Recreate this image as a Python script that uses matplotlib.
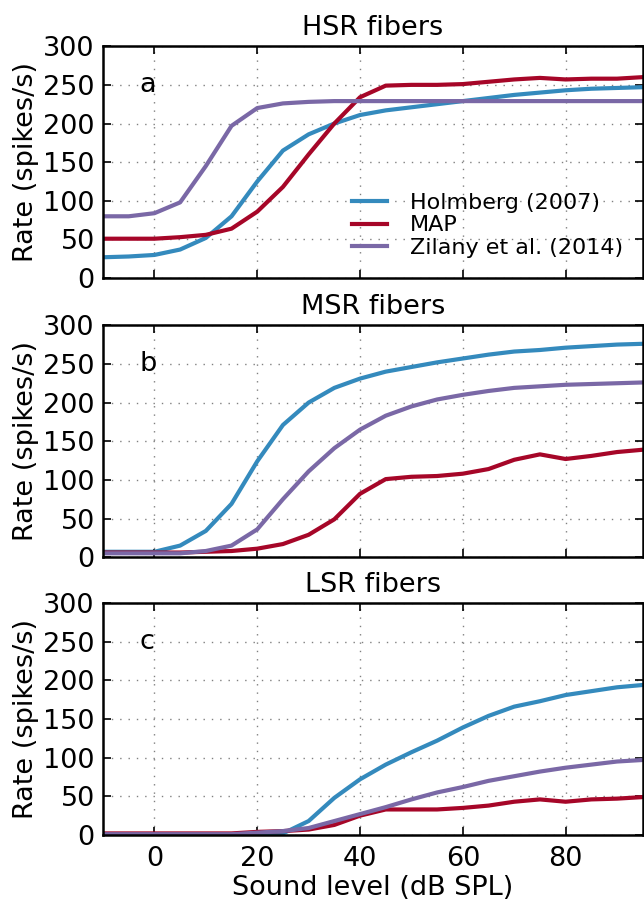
import matplotlib
matplotlib.use("Agg")
import matplotlib.pyplot as plt

# sound levels (dB SPL)
levels = [-10, -5, 0, 5, 10, 15, 20, 25, 30, 35, 40, 45, 50, 55, 60, 65, 70, 75, 80, 85, 90, 95]

# HSR fibers
hsr_holmberg = [27, 28, 30, 37, 52, 80, 125, 165, 186, 200, 211, 217, 221, 225, 229, 233, 237, 240, 243, 245, 246, 247]
hsr_map = [51, 51, 51, 53, 56, 64, 86, 118, 160, 200, 234, 249, 250, 250, 251, 254, 257, 259, 257, 258, 258, 260]
hsr_zilany = [80, 80, 84, 98, 145, 197, 220, 226, 228, 229, 229, 229, 229, 229, 229, 229, 229, 229, 229, 229, 229, 229]

# MSR fibers
msr_holmberg = [7, 7, 7, 15, 34, 69, 124, 171, 200, 219, 231, 240, 246, 252, 257, 262, 266, 268, 271, 273, 275, 276]
msr_map = [6, 6, 6, 6, 7, 8, 11, 17, 29, 49, 82, 101, 104, 105, 108, 114, 126, 133, 127, 131, 136, 139]
msr_zilany = [5, 5, 5, 5, 8, 15, 36, 75, 111, 141, 165, 183, 195, 204, 210, 215, 219, 221, 223, 224, 225, 226]

# LSR fibers
lsr_holmberg = [1, 1, 1, 1, 1, 1, 1, 2, 18, 48, 72, 91, 107, 122, 139, 154, 166, 173, 181, 186, 191, 194]
lsr_map = [2, 2, 2, 2, 2, 2, 4, 5, 7, 13, 25, 33, 33, 33, 35, 38, 43, 46, 43, 46, 47, 49]
lsr_zilany = [1, 1, 1, 1, 1, 1, 3, 5, 9, 18, 27, 36, 46, 55, 62, 70, 76, 82, 87, 91, 95, 97]

labels = ["Holmberg (2007)", "MAP", "Zilany et al. (2014)"]
colors = ["#348ABD", "#A60628", "#7A68A6"]
titles = ["HSR fibers", "MSR fibers", "LSR fibers"]
letters = ["a", "b", "c"]
panels = [
    [hsr_holmberg, hsr_map, hsr_zilany],
    [msr_holmberg, msr_map, msr_zilany],
    [lsr_holmberg, lsr_map, lsr_zilany],
]

fs = 19.5
fig = plt.figure(figsize=(6.44, 9.06), dpi=100)
bottoms = [0.693, 0.385, 0.0784]
height = 0.256

for i, series in enumerate(panels):
    ax = fig.add_axes([0.16, bottoms[i], 0.838, height])
    for y, lab, c in zip(series, labels, colors):
        ax.plot(levels, y, color=c, lw=3, label=lab)
    ax.set_xlim(-10, 95)
    ax.set_ylim(0, 300)
    ax.set_xticks([0, 20, 40, 60, 80])
    ax.set_yticks([0, 50, 100, 150, 200, 250, 300])
    ax.grid(True, color="0.5", linestyle=(0, (1, 5)), lw=1)
    ax.tick_params(direction="in", top=True, right=True, length=6, width=1.2, labelsize=fs)
    ax.tick_params(axis="x", pad=8)
    ax.tick_params(axis="y", pad=6)
    for s in ax.spines.values():
        s.set_linewidth(1.8)
    ax.set_title(titles[i], fontsize=fs, pad=8)
    ax.set_ylabel("Rate (spikes/s)", fontsize=fs, labelpad=3)
    ax.text(-3, 250, letters[i], fontsize=fs, va="center")
    if i < 2:
        ax.set_xticklabels([])
    else:
        ax.set_xlabel("Sound level (dB SPL)", fontsize=fs, labelpad=2)
    if i == 0:
        ax.legend(loc="lower right", frameon=False, fontsize=16, handlelength=1.6,
                  handletextpad=1.0, labelspacing=0.12, bbox_to_anchor=(1.0, 0.0))

fig.savefig("out.png", dpi=100)
